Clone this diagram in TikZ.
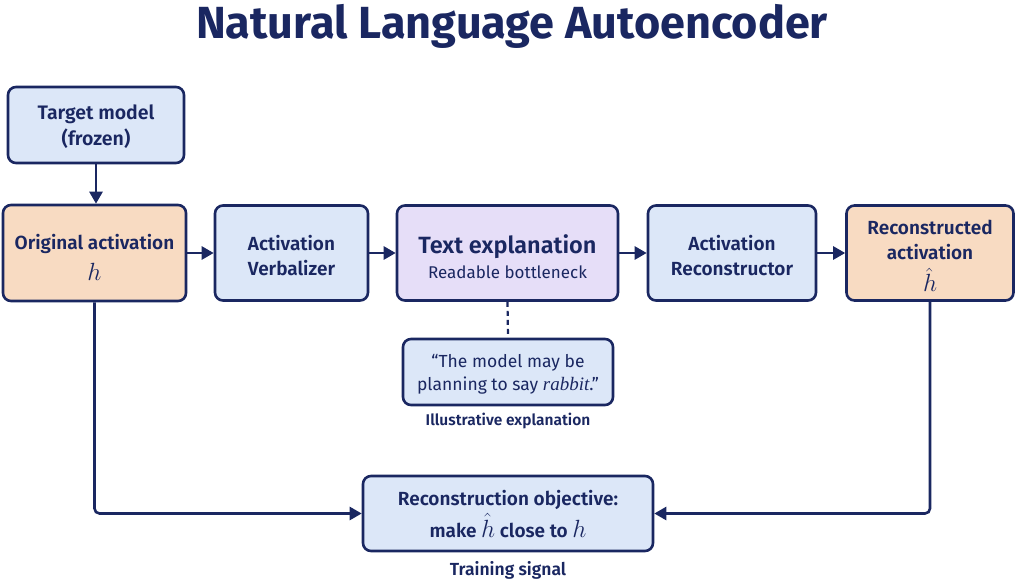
\documentclass[tikz,border=0pt]{standalone}
\usepackage{fontspec}
\setmainfont{Fira Sans}[BoldFont={Fira Sans SemiBold}]
\newfontfamily\titlefont{Fira Sans}
\newfontfamily\serifit{Liberation Serif}
\usetikzlibrary{arrows.meta,positioning}
\definecolor{navy}{HTML}{1A2761}
\definecolor{bluefill}{HTML}{DCE7F8}
\definecolor{orangefill}{HTML}{F8DBC2}
\definecolor{purplefill}{HTML}{E6DEF8}
\tikzset{
  box/.style={draw=navy, line width=2.6pt, rounded corners=8pt, inner sep=0pt},
  bluebox/.style={box, fill=bluefill},
  orangebox/.style={box, fill=orangefill},
  purplebox/.style={box, fill=purplefill},
  boxtext/.style={align=center, text=navy, inner sep=0pt,
    font=\fontsize{19}{25}\selectfont\bfseries},
  conn/.style={draw=navy, line width=2.6pt, -{Triangle[length=12pt,width=13pt]}},
  caption/.style={text=navy, font=\fontsize{15.5}{18}\selectfont\bfseries},
}
\newcommand{\bigmath}[1]{{\fontsize{26}{26}\selectfont$#1$}}
\begin{document}
\begin{tikzpicture}[x=1pt,y=-1pt]
\useasboundingbox (0,0) rectangle (1024,584);
\node[text=navy, font=\fontsize{45}{48}\selectfont\titlefont\bfseries, anchor=base] (title) at (512,38) {Natural Language Autoencoder};

% boxes
\node[bluebox, minimum width=176pt, minimum height=76pt] (target) at (96,125) {};
\node[orangebox, minimum width=183pt, minimum height=96pt] (orig) at (94.5,253) {};
\node[bluebox, minimum width=153pt, minimum height=95pt] (verb) at (291.5,253) {};
\node[purplebox, minimum width=221pt, minimum height=95pt] (expl) at (507.5,253) {};
\node[bluebox, minimum width=168pt, minimum height=95pt] (recon) at (732,253) {};
\node[orangebox, minimum width=167pt, minimum height=95pt] (rec) at (930,253) {};
\node[bluebox, minimum width=210pt, minimum height=66pt] (quote) at (508,372) {};
\node[bluebox, minimum width=290pt, minimum height=75pt] (obj) at (508,513.5) {};

% texts
\node[boxtext, font=\fontsize{19.5}{26}\selectfont\bfseries] (targettxt) at (96,127) {Target model\\(frozen)};
\node[boxtext] (origtxt) at (94.5,257) {Original activation\\[6pt]\bigmath{h}};
\node[boxtext] (verbtxt) at (291.5,255.5) {Activation\\Verbalizer};
\node[boxtext] (expltxt) at (507.5,257) {{\fontsize{23.5}{27}\selectfont Text explanation}\\{\fontsize{17}{21}\selectfont\mdseries Readable bottleneck}};
\node[boxtext] (recontxt) at (732,255.5) {Activation\\Reconstructor};
\node[boxtext] (rectxt) at (930,256) {Reconstructed\\activation\\[7pt]\bigmath{\hat{h}}};
\node[boxtext, font=\fontsize{17.5}{23}\selectfont\mdseries] (quotetxt) at (508,374) {\textquotedblleft The model may be\\planning to say {\fontsize{19}{23}\selectfont\serifit\itshape rabbit}.\textquotedblright};
\node[caption] (qcap) at (508,421) {Illustrative explanation};
\node[boxtext] (objtxt) at (508,514) {Reconstruction objective:\\[3pt]make \bigmath{\hat{h}} close to \bigmath{h}};
\node[caption, font=\fontsize{17.5}{20}\selectfont\bfseries] (tcap) at (508,570) {Training signal};

% connectors
\draw[conn] (target.south) -- (target.south |- orig.north);
\draw[conn] (orig) -- (verb);
\draw[conn] (verb) -- (expl);
\draw[conn] (expl) -- (recon);
\draw[conn] (recon) -- (rec);
\draw[draw=navy, line width=2.2pt, dash pattern=on 5pt off 4pt] (expl.south) -- (quote.north);
\draw[conn, rounded corners=5pt] (orig.south) |- (obj.west);
\draw[conn, rounded corners=5pt] (rec.south) |- (obj.east);
\end{tikzpicture}
\end{document}
